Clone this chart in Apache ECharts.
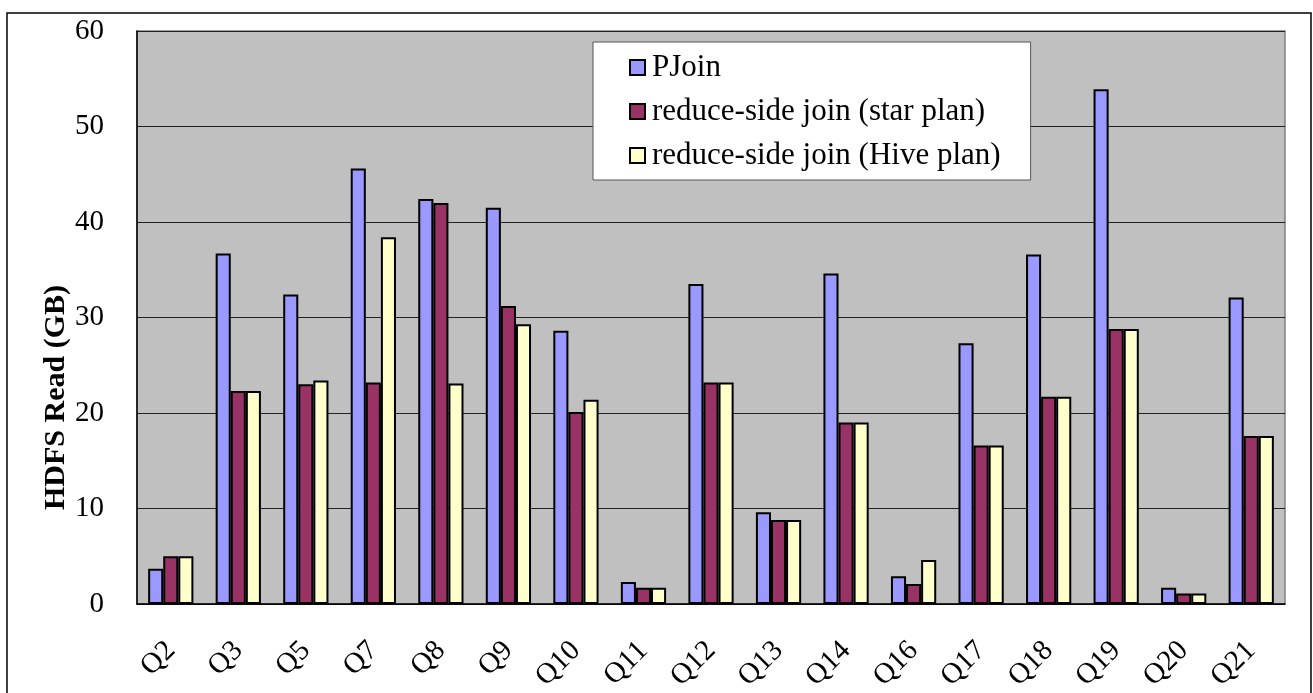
<!DOCTYPE html>
<html>
<head>
<meta charset="utf-8">
<script src="https://cdn.jsdelivr.net/npm/echarts@6/dist/echarts.min.js"></script>
<style>
  html, body { margin: 0; padding: 0; background: #fff; }
  #chart { width: 1313px; height: 693px; }
</style>
</head>
<body>
<div id="chart"></div>
<script>
// TPC-H queries on the category axis
const queries = ['Q2', 'Q3', 'Q5', 'Q7', 'Q8', 'Q9', 'Q10', 'Q11', 'Q12', 'Q13', 'Q14', 'Q16', 'Q17', 'Q18', 'Q19', 'Q20', 'Q21'];

// HDFS data read per query, in GB
const pjoin     = [3.7, 36.7, 32.4, 45.6, 42.4, 41.5, 28.6, 2.3, 33.5, 9.6, 34.6, 2.9, 27.3, 36.6, 53.9, 1.7, 32.1];
const starPlan  = [5.0, 22.3, 23.0, 23.2, 42.0, 31.2, 20.1, 1.7, 23.2, 8.8, 19.0, 2.1, 16.6, 21.7, 28.8, 1.1, 17.6];
const hivePlan  = [5.0, 22.3, 23.4, 38.4, 23.1, 29.3, 21.4, 1.7, 23.2, 8.8, 19.0, 4.6, 16.6, 21.7, 28.8, 1.1, 17.6];

const seriesNames = ['PJoin', 'reduce-side join (star plan)', 'reduce-side join (Hive plan)'];
const seriesColors = ['#9999FF', '#993366', '#FFFFCC'];

const FONT = '"Liberation Serif", "Times New Roman", serif';

const chart = echarts.init(document.getElementById('chart'), null, { renderer: 'canvas' });

function barSeries(name, data, color) {
  return {
    name: name,
    type: 'bar',
    data: data,
    barGap: '0%',
    barCategoryGap: '33%',
    itemStyle: { color: color, borderColor: '#000', borderWidth: 2 }
  };
}

chart.setOption({
  backgroundColor: '#ffffff',
  animation: false,
  textStyle: { fontFamily: FONT },
  graphic: [{
    type: 'rect',
    shape: { x: 7, y: 13, width: 1304, height: 720 },
    style: { fill: 'none', stroke: '#000', lineWidth: 1.5 },
    z: 100,
    silent: true
  }],
  grid: {
    left: 137, top: 31, right: 28, bottom: 89,
    outerBoundsMode: 'none',
    containLabel: false,
    show: true,
    backgroundColor: '#C0C0C0',
    borderColor: '#808080',
    borderWidth: 1.5
  },
  legend: {
    orient: 'vertical',
    left: 593,
    top: 42,
    backgroundColor: '#ffffff',
    borderColor: '#555',
    borderWidth: 1,
    borderRadius: 0,
    padding: [10, 30, 9, 36],
    itemWidth: 15,
    itemHeight: 15,
    itemGap: 13,
    icon: 'rect',
    textStyle: { fontFamily: FONT, fontSize: 31, color: '#000', lineHeight: 31, padding: [0, 0, 0, 2] },
    data: seriesNames
  },
  xAxis: {
    type: 'category',
    data: queries,
    axisLine: { lineStyle: { color: '#000', width: 1.5 } },
    axisTick: { inside: true, length: 6, lineStyle: { color: '#000', width: 1 } },
    axisLabel: {
      interval: 0,
      rotate: 45,
      margin: 42,
      fontFamily: FONT,
      fontSize: 29,
      color: '#000'
    }
  },
  yAxis: {
    type: 'value',
    min: 0,
    max: 60,
    interval: 10,
    name: 'HDFS Read (GB)',
    nameLocation: 'middle',
    nameGap: 66,
    nameMoveOverlap: false,
    nameTextStyle: {
      fontFamily: FONT,
      fontSize: 30,
      fontWeight: 'bold',
      color: '#000',
      padding: [0, 160, 0, 0]
    },
    axisLine: { show: true, lineStyle: { color: '#000', width: 1.5 } },
    axisTick: { show: false },
    axisLabel: { margin: 33, fontFamily: FONT, fontSize: 29, color: '#000' },
    splitLine: { lineStyle: { color: '#222', width: 1 } }
  },
  series: [
    barSeries(seriesNames[0], pjoin, seriesColors[0]),
    barSeries(seriesNames[1], starPlan, seriesColors[1]),
    barSeries(seriesNames[2], hivePlan, seriesColors[2])
  ]
});
</script>
</body>
</html>
